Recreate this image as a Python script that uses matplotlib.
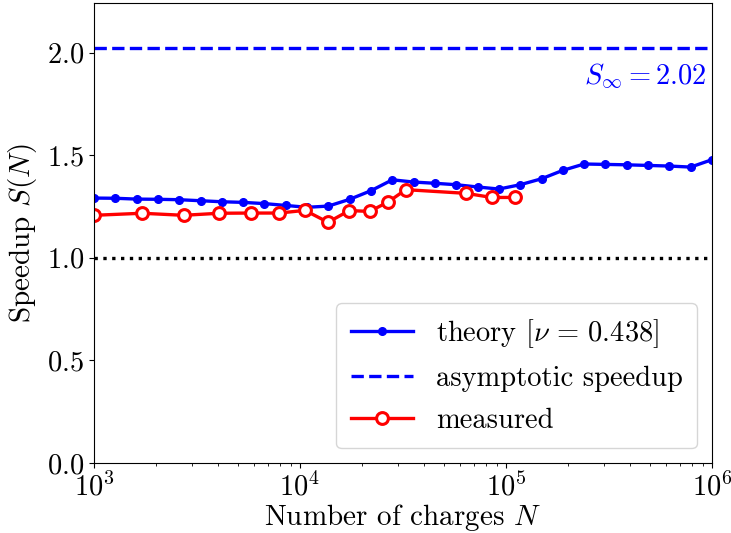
import numpy as np
import matplotlib
matplotlib.use("Agg")
import matplotlib.pyplot as plt

plt.rcParams['font.family'] = 'serif'
plt.rcParams['font.serif'] = ['cmr10']
plt.rcParams['mathtext.fontset'] = 'cm'
plt.rcParams['axes.formatter.use_mathtext'] = True
plt.rcParams['font.size'] = 20.5

# theory curve
N_theory = [1000, 1269, 1610, 2043, 2593, 3290, 4175, 5298, 6723, 8532,
            10826, 13738, 17433, 22122, 28072, 35622, 45204, 57362, 72790, 92367,
            117210, 148735, 188739, 239503, 303920, 385662, 489390, 621017, 788046, 1000000]
S_theory = [1.291, 1.290, 1.286, 1.285, 1.283, 1.278, 1.273, 1.270, 1.264, 1.255,
            1.246, 1.252, 1.285, 1.327, 1.380, 1.369, 1.363, 1.356, 1.345, 1.335,
            1.356, 1.385, 1.426, 1.457, 1.455, 1.453, 1.450, 1.447, 1.442, 1.478]

# measurements
N_meas = [1000, 1710, 2720, 4055, 5770, 7910, 10570, 13680, 17340, 21780,
          26790, 32600, 64000, 85300, 110000]
S_meas = [1.207, 1.217, 1.207, 1.217, 1.218, 1.218, 1.231, 1.173, 1.230, 1.226,
          1.272, 1.332, 1.314, 1.294, 1.294]

S_inf = 2.02

fig = plt.figure(figsize=(7.31, 5.33), dpi=100)
ax = fig.add_axes([0.1286, 0.1313, 0.8454, 0.8625])

ax.plot(N_theory, S_theory, '-o', color='blue', lw=2.4, ms=5.5, label=r'theory [$\nu\,=\,0.438$]')
ax.axhline(S_inf, color='blue', ls='--', lw=2.4, label='asymptotic speedup')
ax.plot(N_meas, S_meas, '-o', color='red', lw=2.4, ms=8.5, mfc='white', mew=2.2, label='measured')
ax.axhline(1.0, color='black', ls=':', lw=2.4)

ax.text(9.4e5, 1.885, r'$S_\infty = 2.02$', color='blue', ha='right', va='center', fontsize=20.5)

ax.set_xscale('log')
ax.set_xlim(1e3, 1e6)
ax.set_ylim(0, 2.24)
ax.set_yticks([0, 0.5, 1.0, 1.5, 2.0])
ax.set_xlabel(r'Number of charges $N$', labelpad=0, fontsize=21)
ax.set_ylabel(r'Speedup $S(N)$', labelpad=6, fontsize=21)
ax.legend(loc='lower right', fontsize=20.5, borderpad=0.5, handlelength=2.2,
          labelspacing=0.55, borderaxespad=0.52)

plt.savefig('out.png', dpi=100)
